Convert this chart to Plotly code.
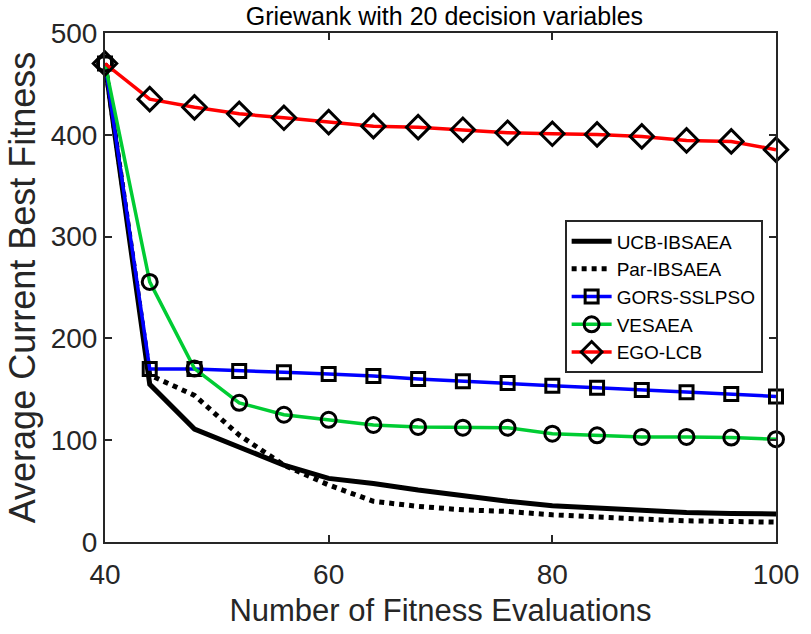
import plotly.graph_objects as go

x = [40, 44, 48, 52, 56, 60, 64, 68, 72, 76, 80, 84, 88, 92, 96, 100]

ucb = [470, 155, 111, 93, 75.5, 62.5, 57.5, 51, 45, 40, 35.5, 33, 31, 29, 28, 27.6]
par = [470, 164, 144, 105, 75.5, 56, 40, 35, 31.6, 30, 26.7, 24.1, 22.5, 20.8, 20.2, 19.5]
gors = [470, 170, 170, 168, 166.7, 165, 163, 160, 158, 156.3, 153.6, 151.4, 149.4, 147.1, 145.5, 143]
vesaea = [470, 255.5, 170.4, 136.7, 125, 120, 115, 113, 112.3, 112.3, 106.4, 104.8, 103.2, 103.2, 102.6, 101]
ego = [470, 435, 427, 420.6, 416.7, 412.4, 408.5, 407.5, 405, 402, 401, 400.4, 398.4, 394.5, 393.5, 385.4]

names = ["UCB-IBSAEA", "Par-IBSAEA", "GORS-SSLPSO", "VESAEA", "EGO-LCB"]

FONT = "Liberation Sans, Arial, sans-serif"
AX = "#262626"

fig = go.Figure()
fig.add_trace(go.Scatter(x=x, y=ucb, name=names[0], mode="lines", cliponaxis=False,
                         line=dict(color="black", width=5)))
fig.add_trace(go.Scatter(x=x, y=par, name=names[1], mode="lines", cliponaxis=False,
                         line=dict(color="black", width=5, dash="dot")))
fig.add_trace(go.Scatter(x=x, y=gors, name=names[2], mode="lines+markers", cliponaxis=False,
                         line=dict(color="#0000ff", width=3.5),
                         marker=dict(symbol="square-open", size=13, color="black",
                                     line=dict(width=3, color="black"))))
fig.add_trace(go.Scatter(x=x, y=vesaea, name=names[3], mode="lines+markers", cliponaxis=False,
                         line=dict(color="#00cc33", width=3.5),
                         marker=dict(symbol="circle-open", size=15, color="black",
                                     line=dict(width=3, color="black"))))
fig.add_trace(go.Scatter(x=x, y=ego, name=names[4], mode="lines+markers", cliponaxis=False,
                         line=dict(color="#ff0000", width=3.5),
                         marker=dict(symbol="diamond-open", size=18, color="black",
                                     line=dict(width=3, color="black"))))

axis_common = dict(showgrid=False, zeroline=False, showline=True, mirror="ticks",
                   linecolor=AX, linewidth=2, ticks="inside", ticklen=7,
                   tickwidth=2, tickcolor=AX,
                   tickfont=dict(family=FONT, size=28, color=AX))

fig.update_xaxes(range=[40, 100], tickvals=[40, 60, 80, 100],
                 ticklabelstandoff=6,
                 title=dict(text="Number of Fitness Evaluations",
                            font=dict(family=FONT, size=31, color=AX), standoff=11),
                 **axis_common)
fig.update_yaxes(range=[0, 500], tickvals=[0, 100, 200, 300, 400, 500],
                 title=dict(text="Average Current Best Fitness",
                            font=dict(family=FONT, size=36, color=AX), standoff=4),
                 **axis_common)

fig.update_layout(
    width=811, height=634,
    margin=dict(l=105, r=27, t=33, b=90),
    paper_bgcolor="white", plot_bgcolor="white",
    title=dict(text="Griewank with 20 decision variables", x=0.548, xanchor="center",
               y=0.975, yanchor="middle",
               font=dict(family=FONT, size=25, color="black")),
    legend=dict(x=0.685, y=0.632, xanchor="left", yanchor="top",
                bgcolor="white", bordercolor=AX, borderwidth=2,
                font=dict(family=FONT, size=19, color="black"),
                tracegroupgap=0, itemwidth=40),
    showlegend=True,
)

fig.write_html("out.html")
